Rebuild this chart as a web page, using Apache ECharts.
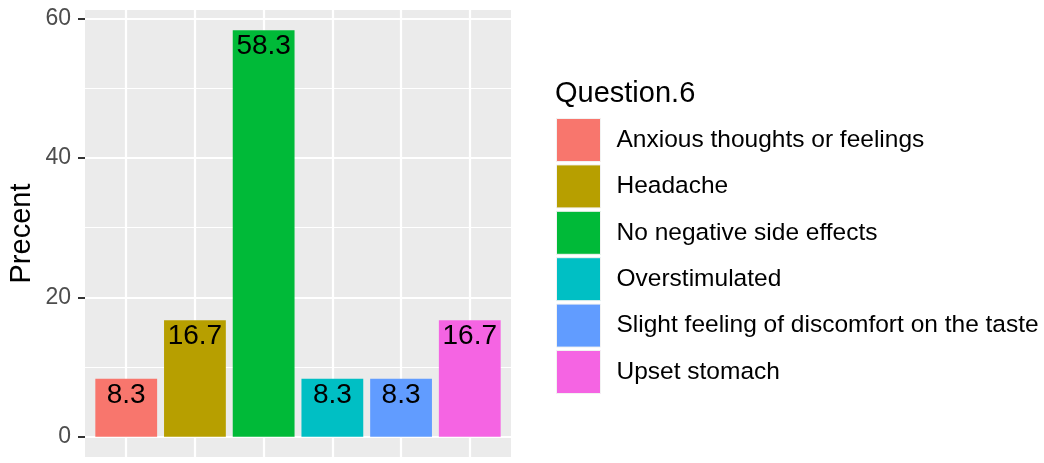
<!DOCTYPE html>
<html>
<head>
<meta charset="utf-8">
<script src="https://cdn.jsdelivr.net/npm/echarts@6/dist/echarts.min.js"></script>
<style>
html,body{margin:0;padding:0;background:#fff;}
#chart{width:1044px;height:463px;}
</style>
</head>
<body>
<div id="chart"></div>
<script>
const categories = ["Anxious thoughts or feelings", "Headache", "No negative side effects", "Overstimulated", "Slight feeling of discomfort on the taste", "Upset stomach"];
const percents = [8.3, 16.7, 58.3, 8.3, 8.3, 16.7];
const colors = ["#F8766D", "#B79F00", "#00BA38", "#00BFC4", "#619CFF", "#F564E3"];
const yMajorTicks = [0, 20, 40, 60];
const yMinorTicks = [10, 30, 50];
const legendTitle = "Question.6";
const yTitle = "Precent";

const FONT = "Liberation Sans, Arial, sans-serif";
const xPositions = categories.map((c, i) => i + 1);
const yMaxData = Math.max(...percents);
const yPad = yMaxData * 0.05;
const xMin = 1 - 0.6, xMax = categories.length + 0.6;

const chart = echarts.init(document.getElementById('chart'), null, {renderer: 'canvas'});

const barSeries = categories.map((name, i) => ({
  name: name,
  type: 'bar',
  z: 10,
  barWidth: 61.8,
  barGap: '-100%',
  data: [[xPositions[i], percents[i]]],
  itemStyle: {color: colors[i]},
  label: {
    show: true,
    position: 'insideTop',
    distance: 2,
    color: '#000',
    fontFamily: FONT,
    fontSize: 28,
    formatter: p => p.value[1].toFixed(1)
  }
}));

const gridSeries = {
  name: '__grid',
  type: 'line',
  z: 1,
  silent: true,
  data: [],
  markLine: {
    silent: true,
    z: 1,
    symbol: 'none',
    label: {show: false},
    animation: false,
    data: [
      ...yMinorTicks.map(v => ({yAxis: v, lineStyle: {color: '#fff', width: 1.1, type: 'solid'}})),
      ...yMajorTicks.map(v => ({yAxis: v, lineStyle: {color: '#fff', width: 2.2, type: 'solid'}})),
      ...xPositions.map(v => ({xAxis: v, lineStyle: {color: '#fff', width: 2.2, type: 'solid'}}))
    ]
  }
};

chart.setOption({
  animation: false,
  backgroundColor: '#fff',
  title: {
    text: legendTitle,
    left: 555,
    top: 79,
    padding: 0,
    textStyle: {fontFamily: FONT, fontSize: 29, fontWeight: 'normal', color: '#000'}
  },
  legend: {
    data: categories,
    orient: 'vertical',
    left: 556,
    top: 118,
    padding: 0,
    icon: 'rect',
    itemWidth: 44,
    itemHeight: 43,
    itemGap: 2.4,
    selectedMode: false,
    itemStyle: {borderColor: '#F2F2F2', borderWidth: 1},
    textStyle: {fontFamily: FONT, fontSize: 24.5, color: '#000', padding: [0, 0, 0, 11]}
  },
  grid: {
    left: 85, right: 1044 - 511, top: 10, bottom: 463 - 457,
    show: true, backgroundColor: '#EBEBEB', borderWidth: 0
  },
  xAxis: {
    type: 'value',
    min: xMin, max: xMax,
    axisLine: {show: false},
    splitLine: {show: false},
    axisLabel: {show: false},
    axisTick: {show: true, customValues: xPositions, length: 7, lineStyle: {color: '#333', width: 2}}
  },
  yAxis: {
    type: 'value',
    min: -yPad, max: yMaxData + yPad,
    name: yTitle,
    nameLocation: 'middle',
    nameGap: 49,
    nameTextStyle: {fontFamily: FONT, fontSize: 29, color: '#000'},
    axisLine: {show: false},
    splitLine: {show: false},
    axisLabel: {customValues: yMajorTicks, fontFamily: FONT, fontSize: 23, color: '#4D4D4D', margin: 14},
    axisTick: {show: true, customValues: yMajorTicks, length: 7, lineStyle: {color: '#333', width: 2}}
  },
  series: [gridSeries, ...barSeries]
});
</script>
</body>
</html>
